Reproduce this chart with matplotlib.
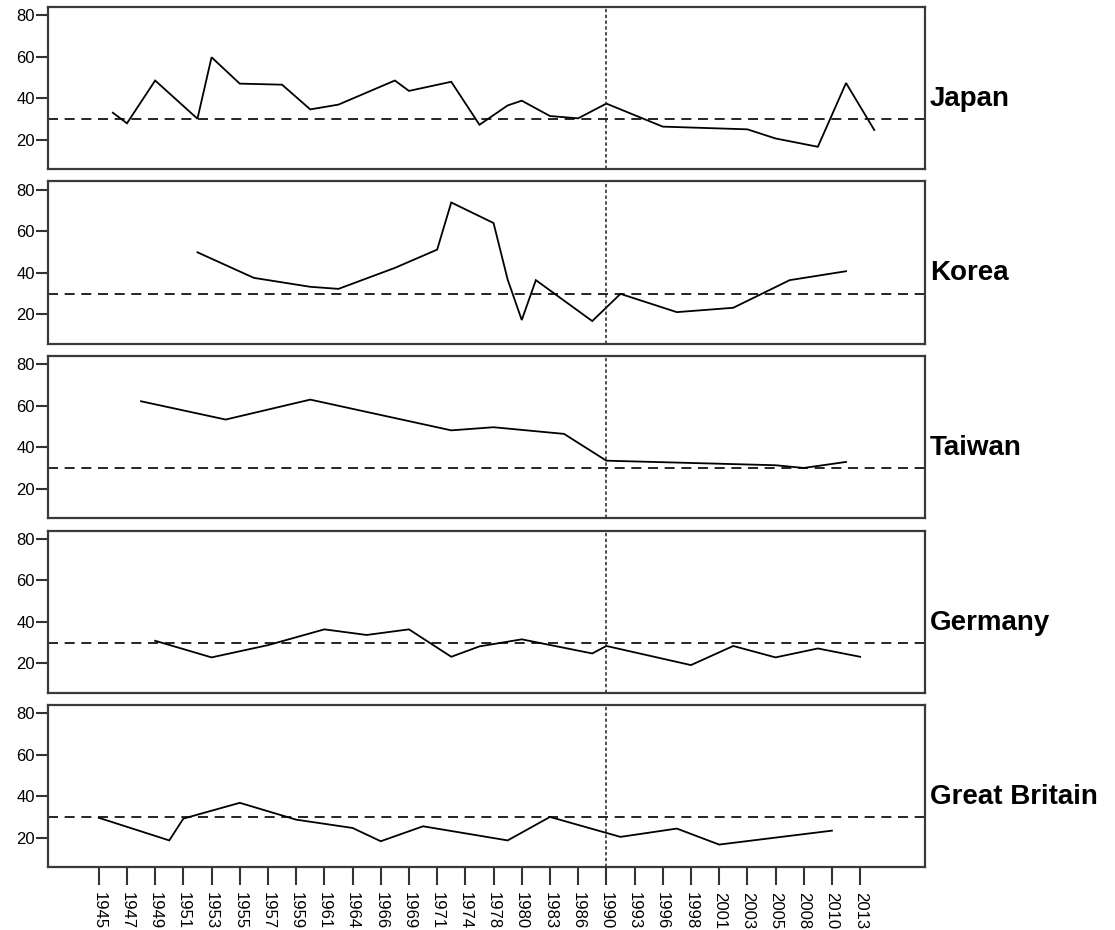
import matplotlib.pyplot as plt

# category axis: every election year in any country, in order (labels on every other one)
years = [1945, 1946, 1947, 1948, 1949, 1950, 1951, 1952, 1953, 1954,
         1955, 1956, 1957, 1958, 1959, 1960, 1961, 1963, 1964, 1965,
         1966, 1967, 1969, 1970, 1971, 1972, 1974, 1976, 1978, 1979,
         1980, 1981, 1983, 1984, 1986, 1987, 1990, 1992, 1993, 1994,
         1996, 1997, 1998, 2000, 2001, 2002, 2003, 2004, 2005, 2007,
         2008, 2009, 2010, 2012, 2013, 2014]

countries = ['Japan', 'Korea', 'Taiwan', 'Germany', 'Great Britain']

japan_years = [1946, 1947, 1949, 1952, 1953, 1955, 1958, 1960, 1963, 1967, 1969, 1972,
               1976, 1979, 1980, 1983, 1986, 1990, 1996, 2003, 2005, 2009, 2012, 2014]
japan_vals = [33.1, 28.0, 48.6, 30.2, 59.8, 47.1, 46.6, 34.7, 37.0, 48.6, 43.6, 48.0,
              27.3, 36.6, 38.9, 31.5, 30.4, 37.5, 26.4, 25.1, 20.7, 16.7, 47.4, 24.8]

korea_years = [1952, 1956, 1960, 1963, 1967, 1971, 1972, 1978, 1979, 1980, 1981,
               1987, 1992, 1997, 2002, 2007, 2012]
korea_vals = [49.9, 37.6, 33.3, 32.3, 42.4, 51.2, 73.9, 64.0, 36.8, 17.3, 36.5,
              16.8, 29.9, 21.1, 23.2, 36.5, 40.8]

taiwan_years = [1948, 1954, 1960, 1972, 1978, 1984, 1990, 2005, 2008, 2012]
taiwan_vals = [62.2, 53.4, 63.0, 48.2, 49.7, 46.5, 33.6, 31.4, 30.1, 33.0]

germany_years = [1949, 1953, 1957, 1961, 1965, 1969, 1972, 1976, 1980, 1987,
                 1990, 1998, 2002, 2005, 2009, 2013]
germany_vals = [30.9, 22.9, 28.8, 36.4, 33.7, 36.4, 23.2, 28.2, 31.6, 24.8,
                28.4, 19.2, 28.4, 22.9, 27.2, 23.2]

britain_years = [1945, 1950, 1951, 1955, 1959, 1964, 1966, 1970, 1979, 1983,
                 1992, 1997, 2001, 2010]
britain_vals = [29.7, 18.8, 29.3, 36.9, 28.8, 24.8, 18.4, 25.6, 18.8, 30.1,
                20.5, 24.5, 16.8, 23.5]

series = [(japan_years, japan_vals), (korea_years, korea_vals),
          (taiwan_years, taiwan_vals), (germany_years, germany_vals),
          (britain_years, britain_vals)]

threshold = 30
marker_year = 1990
y_ticks = [20, 40, 60, 80]

plt.rcParams['font.family'] = ['Liberation Sans', 'DejaVu Sans']

fig = plt.figure(figsize=(11.15, 9.3), dpi=100)

W, H = 1115, 930
left, right = 48, 925
tops = [7, 181.5, 356, 530.5, 705]
panel_h = 162

for i, (name, (yrs, vals)) in enumerate(zip(countries, series)):
    top = tops[i]
    ax = fig.add_axes([left / W, 1 - (top + panel_h) / H, (right - left) / W, panel_h / H])
    xs = [years.index(y) for y in yrs]
    ax.plot(xs, vals, color='black', lw=1.3, solid_joinstyle='miter')
    ax.axhline(threshold, color='black', lw=1.2, dashes=(6, 4))
    ax.axvline(years.index(marker_year), color='#222222', lw=1.1, dashes=(2.2, 1.6))

    ax.set_xlim(-3.6, len(years) + 2.6)
    ax.set_ylim(6, 84)
    ax.set_yticks(y_ticks)
    ax.tick_params(axis='y', direction='out', length=8.5, width=1.5, labelsize=12, pad=1,
                   color='#333333')
    for sp in ax.spines.values():
        sp.set_color('#3a3a3a')
        sp.set_linewidth(1.6)

    if i == len(countries) - 1:
        tick_pos = list(range(0, len(years), 2))
        ax.set_xticks(tick_pos)
        ax.set_xticklabels([str(years[k]) for k in tick_pos], rotation=270, fontsize=12)
        ax.tick_params(axis='x', direction='out', length=13, width=1.5, pad=5,
                       color='#333333')
    else:
        ax.set_xticks([])

    fig.text((right + 5) / W, 1 - (top + panel_h / 2 + 11) / H, name,
             fontsize=20, fontweight='bold', ha='left', va='center')

fig.savefig('out.png', dpi=100)
